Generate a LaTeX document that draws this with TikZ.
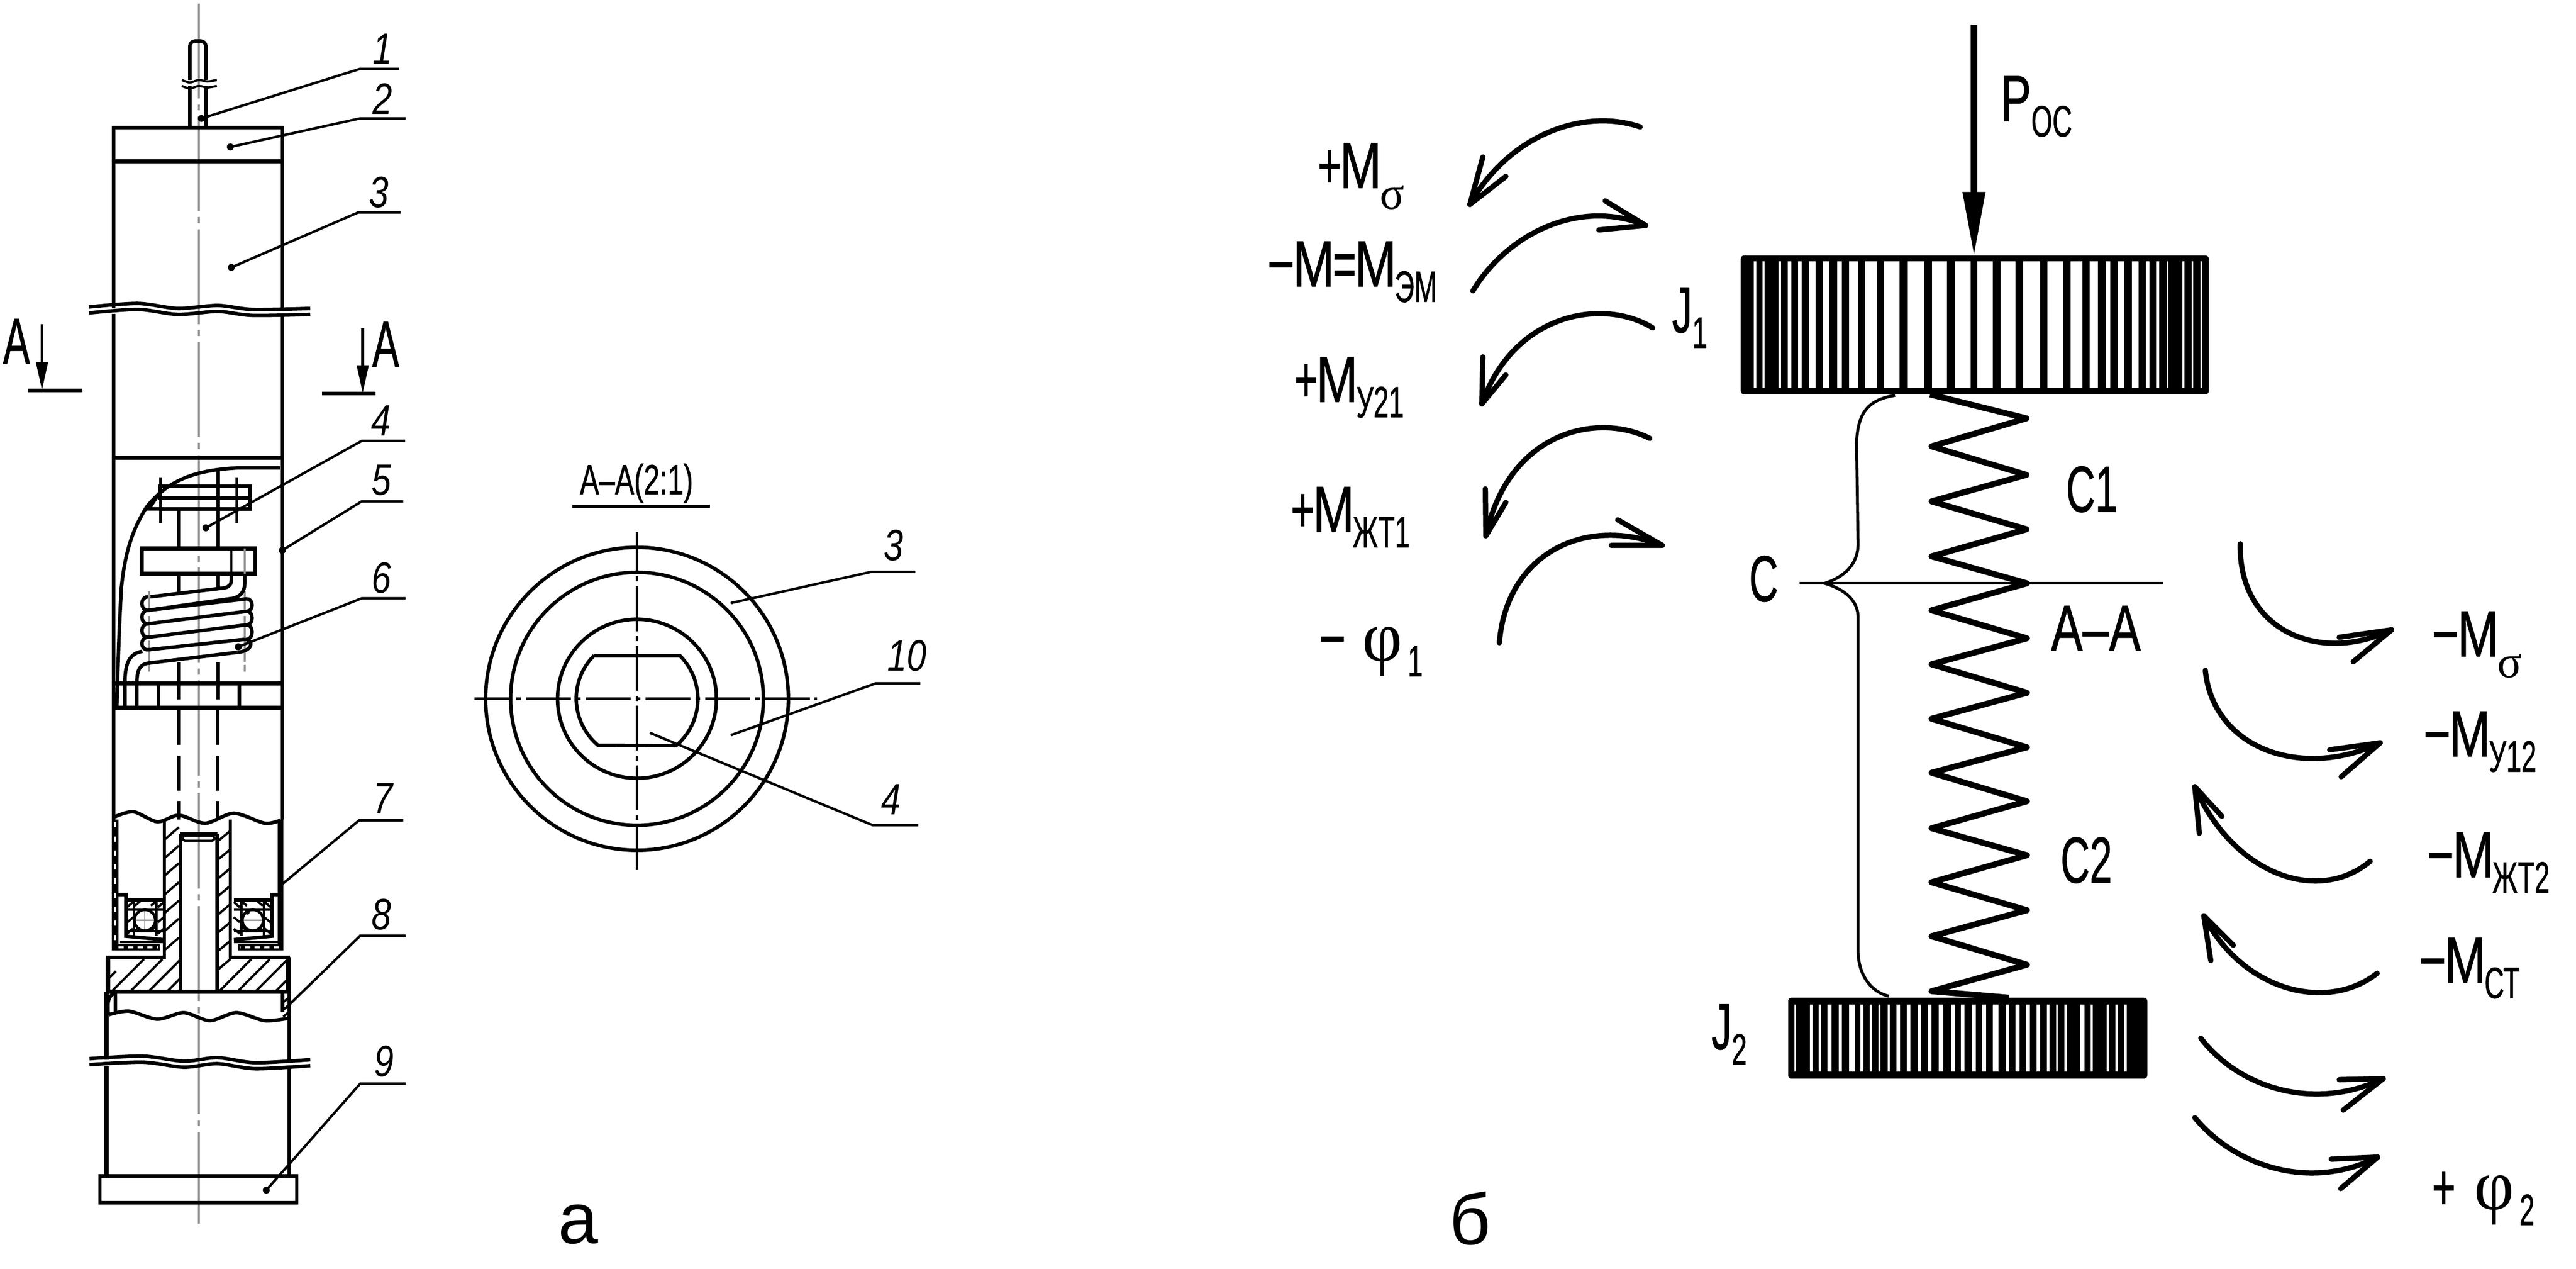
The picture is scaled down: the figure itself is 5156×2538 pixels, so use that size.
\documentclass[tikz,border=0pt]{standalone}
\usepackage{fontspec}
\usepackage{graphicx}
\usepackage{tikz}
\usetikzlibrary{arrows.meta}
\setmainfont{Liberation Sans}
\newfontfamily\grfont{Liberation Serif}
\newfontfamily\capfont[FakeBold=1]{Liberation Sans}
\definecolor{axisgray}{RGB}{150,150,150}

\newcommand{\nar}[1]{\scalebox{.62}[1]{#1}}
\newcommand{\lo}[1]{\raisebox{-8.8pt}{\fontsize{25}{25}\selectfont #1}}
\newcommand{\wide}[1]{\scalebox{1.61}[1]{{\grfont #1}}}
\newcommand{\MM}{\hspace{-1.5pt}\scalebox{1.24}[1]{M}\hspace{-1.5pt}}
\newcommand{\mns}{\scalebox{1.15}[1]{−}}
\newcommand{\losig}{\raisebox{-12pt}{\fontsize{26}{26}\selectfont\wide{σ}}}
\newcommand{\phisym}{\scalebox{1.55}[1]{{\grfont\fontsize{41}{41}\selectfont φ}}}
% name, dot, knee, end, label position, number
\newcommand{\leaderlabel}[7][7]{%
  \coordinate (#2dot) at #3;
  \coordinate (#2knee) at #4;
  \coordinate (#2end) at #5;
  \fill (#2dot) circle[radius=#1];
  \draw[leaderline] (#2dot) -- (#2knee) -- (#2end);
  \node[numlabel] (#2lbl) at #6 {\scalebox{.8}[1]{#7}};}
% start, control, control, barb, tip, barb
\newcommand{\moment}[6]{%
  \draw[momentline] #1 .. controls #2 and #3 .. #5;
  \draw[momentline] #4 -- #5 -- #6;}

\tikzset{
  wall/.style={line width=2pt},
  heavy/.style={line width=2.3pt},
  thinline/.style={line width=1.3pt},
  leaderline/.style={line width=1.4pt},
  axisline/.style={axisgray, line width=1.3pt, dash pattern=on 54pt off 3.4pt on 3.4pt off 3.4pt},
  centerline/.style={line width=1.5pt, dash pattern=on 25.6pt off 2.8pt on 2.8pt off 2.8pt},
  numlabel/.style={inner sep=0pt, font=\fontsize{25}{25}\selectfont\itshape},
  mlabel/.style={anchor=base west, inner sep=0pt, font=\capfont\fontsize{37}{37}\selectfont},
  caplabel/.style={inner sep=0pt, font=\capfont\fontsize{37}{37}\selectfont},
  momentline/.style={line width=3pt, line join=round, line cap=round},
  force/.style={line width=4pt, -{Stealth[length=37pt, width=12pt, inset=0pt]}},
  sectarrow/.style={line width=1.6pt, -{Stealth[length=16pt, width=6.5pt, inset=0pt]}},
}

\begin{document}
\begin{tikzpicture}[x=0.01cm, y=-0.01cm]
    \path[use as bounding box, fill=white] (0,0) rectangle (5156,2538);

    % Axis of the assembly
    \draw[axisline] (398,7) -- (398,2448);

    % Rod and top cap
    \draw[wall, rounded corners=3pt] (380,160) -- (380,82) -- (412,82) -- (412,160);
    \draw[wall] (380,172) -- (380,255);
    \draw[wall] (412,172) -- (412,255);
    \draw[thinline] plot[smooth] coordinates {(364,160) (380,165) (398,160) (415,163) (434,160)};
    \draw[thinline] plot[smooth] coordinates {(364,172) (380,177) (398,172) (415,175) (434,172)};
    \draw[wall] (227,617) -- (227,255) -- (565,255) -- (565,617);
    \draw[heavy] (227,323) -- (565,323);

    % Upper break
    \draw[wall] plot[smooth] coordinates {(178,614) (276,607) (356,617) (436,611) (505,619) (621,617)};
    \draw[wall] plot[smooth] coordinates {(178,626) (276,619) (356,629) (436,623) (505,631) (621,629)};
    \draw[wall] (227,628) -- (227,1640);
    \draw[wall] (565,628) -- (565,1640);

    % Section marks
    \node[caplabel] (markAl) at (33,683) {\nar{А}};
    \coordinate (markAlt) at (84,649);
    \coordinate (markAlb) at (84,781);
    \draw[sectarrow] (markAlt) -- (markAlb);
    \draw[wall] (56,781) -- (165,781);
    \node[caplabel] (markAr) at (772,689) {\nar{А}};
    \coordinate (markArt) at (726,657);
    \coordinate (markArb) at (726,787);
    \draw[sectarrow] (markArt) -- (markArb);
    \draw[wall] (644,787) -- (752,787);

    % Cut-away with the bolt
    \draw[heavy] (227,916) -- (565,916);
    \draw[wall] (561,936) -- (477,936) .. controls (400,940) and (340,955) .. (293,1015)
        .. controls (262,1065) and (250,1110) .. (243,1175) .. controls (238,1260) and (236,1340) .. (234,1413);
    \draw[wall] (320,973) rectangle (501,997);
    \draw[wall] (320,1018) -- (298,1018) -- (320,985);
    \draw[wall] (320,1018) -- (501,1018) -- (501,997);
    \draw[thinline] (321,955) -- (321,1047);
    \draw[thinline] (474,955) -- (474,1047);
    \draw[wall] (358,1018) -- (358,1097);
    \draw[wall] (437,942) -- (437,1097);
    \draw[heavy] (284,1097) rectangle (511,1148);
    \draw[thinline] (463,1097) -- (463,1148);
    \draw[axisline, dash pattern=] (490,1097) -- (490,1148);
    \draw[wall] (358,1148) -- (358,1188);
    \draw[wall] (437,1148) -- (437,1177);

    % Spring coils
    \draw[axisline, dash pattern=on 12pt off 2pt] (298,1183) -- (298,1344);
    \draw[axisline, dash pattern=on 12pt off 2pt] (490,1183) -- (490,1344);
    \draw[wall] (463,1148) -- (463,1160) .. controls (463,1170) and (458,1174) .. (450,1176) -- (301,1194);
    \draw[wall] (490,1148) -- (490,1165) .. controls (490,1185) and (480,1194) .. (466,1197) -- (296,1221);
    \draw[wall] (494,1198) -- (296,1221);
    \draw[wall] (494,1223) -- (296,1248);
    \draw[wall] (494,1250) -- (296,1275);
    \draw[wall] (490,1279) -- (296,1300);
    \foreach \a/\b in {1194/1221, 1221/1248, 1248/1275, 1275/1300}
        \draw[wall] (296,\a) .. controls (280,\a) and (280,\b) .. (296,\b);
    \foreach \a/\b in {1198/1223, 1223/1250, 1250/1279}
        \draw[wall] (494,\a) .. controls (508,\a) and (508,\b) .. (494,\b);
    \draw[wall] (490,1279) .. controls (510,1281) and (505,1303) .. (475,1305);
    \draw[wall] (250,1367) .. controls (250,1325) and (260,1307) .. (285,1303);
    \draw[wall] (274,1367) .. controls (274,1340) and (280,1330) .. (295,1327) -- (475,1305);

    % Lower block of the cut-away
    \draw[wall] (358,1325) -- (358,1399);
    \draw[wall] (437,1325) -- (437,1399);
    \draw[heavy] (231,1367) -- (564,1367);
    \draw[heavy] (231,1416) -- (564,1416);
    \foreach \x in {250,274,317,479}
        \draw[wall] (\x,1367) -- (\x,1416);
    \draw[wall, dash pattern=on 20pt off 6pt] (358,1420) -- (358,1640);
    \draw[wall, dash pattern=on 20pt off 6pt] (436,1420) -- (436,1640);

    % Second break line
    \draw[wall] plot[smooth] coordinates {(230,1634) (267,1624) (315,1644) (358,1631) (411,1647) (468,1627) (530,1647) (561,1641)};

    % Sleeve with hatching
    \draw[wall] (329,1644) -- (329,1915) -- (212,1915);
    \draw[wall] (461,1640) -- (461,1915) -- (581,1915);
    \draw[wall] (361,1668) -- (361,1984);
    \draw[wall] (435,1668) -- (435,1984);
    \draw[wall] (361,1668) -- (435,1668);
    \draw[thinline, rounded corners=2pt] (365,1672) rectangle (430,1682);
    \foreach \y in {1680,1717,1752,1790,1827,1863,1901}
        \draw[thinline] (329,\y) -- (358,\y-25);
    \foreach \y in {1683,1720,1758,1793,1830,1866,1903,1940}
        \draw[thinline] (436,\y) -- (461,\y-21);
    \begin{scope}
        \clip (219,1919) rectangle (358,1982);
        \foreach \x in {225,262,299,336}
            \draw[thinline] (\x,1982) -- (\x+63,1919);
        \draw[thinline] (200,1975) -- (232,1943);
    \end{scope}
    \begin{scope}
        \clip (436,1919) rectangle (575,1982);
        \foreach \x in {440,477,513,553}
            \draw[thinline] (\x,1982) -- (\x+63,1919);
    \end{scope}
    \draw[line width=2.6pt] (216,1915) -- (216,1984);
    \draw[line width=2.6pt] (577,1915) -- (577,1984);
    \draw[heavy] (212,1984) -- (581,1984);

    % Bearings, second one mirrored about the axis
    \fill (224,1640) rectangle (237,1901);
    \draw[white, line width=1pt, dash pattern=on 3pt off 5pt] (230,1645) -- (230,1885);
    \fill (556,1640) rectangle (567,1901);
    \foreach \bx/\bs in {0/1, 796/-1} {
        \begin{scope}[shift={(\bx,0)}, xscale=\bs]
            \draw[wall] (328,1801) -- (252,1801) -- (252,1790) -- (237,1790);
            \draw[wall] (252,1801) -- (252,1873) -- (328,1880);
            \draw[thinline] (268,1801) -- (268,1873);
            \draw[thinline] (252,1820) -- (328,1820);
            \draw[thinline] (252,1863) -- (328,1863);
            \draw[thinline] (313,1801) -- (313,1873);
            \foreach \x/\y in {254/1815, 270/1812, 302/1812, 316/1815, 254/1868, 270/1862, 302/1862, 316/1868, 255/1845, 316/1845}
                \draw[thinline] (\x,\y) -- ++(12,-10);
            \filldraw[fill=white, draw=black, line width=1.6pt] (290,1841) circle[radius=21];
            \fill (233,1889) rectangle (320,1901);
            \draw[white, line width=1.2pt, dash pattern=on 3pt off 2.5pt] (237,1895) -- (317,1895);
            \draw[thinline] (240,1885) -- (328,1885);
        \end{scope}
    }
    \draw[axisline, dash pattern=, line width=.7pt] (272,1841) -- (308,1841);
    \draw[axisline, dash pattern=, line width=.7pt] (290,1823) -- (290,1859);
    \draw[axisline, dash pattern=, line width=.7pt] (488,1841) -- (524,1841);
    \fill (495,1825) circle[radius=5];

    % Lower tube and base
    \draw[line width=2.8pt] (213,1984) -- (213,2120);
    \draw[wall] (579,1984) -- (579,2120);
    \draw[wall] (217,2030) .. controls (213,2000) and (220,1990) .. (231,1986) -- (231,2025);
    \draw[wall] (566,1986) -- (566,2025);
    \draw[thinline] (567,2005) -- (579,1995);
    \draw[thinline] (567,2020) -- (579,2010);
    \draw[thinline] (567,2034) -- (579,2024);
    \draw[wall] plot[smooth] coordinates {(218,2030) (258,2023) (315,2039) (368,2026) (420,2042) (473,2026) (530,2042) (578,2037)};
    \draw[wall] plot[smooth] coordinates {(179,2118) (286,2113) (368,2123) (435,2116) (511,2126) (621,2120)};
    \draw[wall] plot[smooth] coordinates {(179,2130) (286,2125) (368,2135) (435,2128) (511,2138) (621,2132)};
    \draw[line width=2.8pt] (213,2133) -- (213,2353);
    \draw[wall] (579,2133) -- (579,2353);
    \draw[wall] (200,2353) rectangle (594,2406);

    % Position numbers of the assembly
    \leaderlabel{itemA}{(403,237)}{(720,138)}{(799,138)}{(766,98)}{1}
    \leaderlabel{itemB}{(461,294)}{(720,237)}{(812,237)}{(766,198)}{2}
    \leaderlabel{itemC}{(463,535)}{(717,425)}{(802,425)}{(758,385)}{3}
    \leaderlabel{itemD}{(412,1056)}{(724,882)}{(811,882)}{(763,842)}{4}
    \leaderlabel{itemE}{(565,1101)}{(724,1003)}{(807,1003)}{(764,961)}{5}
    \leaderlabel{itemF}{(477,1294)}{(724,1197)}{(812,1197)}{(764,1156)}{6}
    \leaderlabel[2]{itemG}{(566,1768)}{(719,1641)}{(807,1641)}{(767,1597)}{7}
    \leaderlabel[2]{itemH}{(580,2009)}{(721,1872)}{(812,1872)}{(764,1830)}{8}
    \leaderlabel{itemJ}{(533,2381)}{(721,2168)}{(812,2168)}{(769,2123)}{9}

    % Section A-A
    \node[inner sep=0pt, font=\capfont\fontsize{24}{24}\selectfont] (sectTitle) at (1274,967) {\scalebox{.68}[1]{А–А(2:1)}};
    \draw[wall] (1146,1013) -- (1421,1013);
    \draw[wall] (1275,1398) circle[radius=303];
    \draw[wall] (1275,1398) circle[radius=253];
    \draw[wall] (1275,1398) circle[radius=159];
    \draw[wall] (1189,1312) -- (1361,1312) arc[start angle=-45, end angle=50, radius=122]
        -- (1197,1491) arc[start angle=130, end angle=225, radius=122];
    \draw[centerline, dash phase=3.1pt] (1275,1064) -- (1275,1745);
    \draw[centerline, dash phase=4.8pt] (950,1398) -- (1635,1398);
    \leaderlabel[3]{sectC}{(1465,1206)}{(1744,1144)}{(1832,1144)}{(1789,1091)}{3}
    \leaderlabel[3]{sectK}{(1465,1470)}{(1753,1367)}{(1842,1367)}{(1815,1312)}{10}
    \leaderlabel[3]{sectD}{(1303,1467)}{(1747,1651)}{(1838,1651)}{(1783,1600)}{4}

    % Sub-figure letters
    \node[inner sep=0pt, font=\fontsize{41}{41}\selectfont] (letterA) at (1157,2450) {а};
    \node[inner sep=0pt, font=\fontsize{41}{41}\selectfont] (letterB) at (2943,2438) {б};

    % Upper flywheel
    \fill[rounded corners=2pt] (3484,511) rectangle (4421,789);
    \foreach \a/\b in {3510/3515, 3528/3532, 3560/3565, 3578/3585, 3599/3606, 3621/3634, 3648/3662, 3677/3687, 3701/3718, 3733/3757, 3771/3802, 3818/3851, 3867/3897, 3912/3944, 3958/3989, 4004/4034, 4049/4084, 4098/4129, 4144/4168, 4183/4199, 4214/4224, 4239/4252, 4267/4280, 4295/4302, 4316/4322, 4337/4340, 4368/4372, 4387/4390, 4404/4407}
        \fill[white] (\a,523) rectangle (\b,775);

    % Lower flywheel
    \fill[rounded corners=2pt] (3579,1996) rectangle (4298,2158);
    \foreach \a/\b in {3592/3595, 3623/3628, 3640/3645, 3658/3666, 3680/3687, 3701/3712, 3724/3730, 3742/3747, 3760/3764, 3778/3782, 3796/3803, 3816/3824, 3838/3845, 3859/3866, 3880/3890, 3905/3912, 3925/3932, 3947/3955, 3967/3975, 3989/4000, 4014/4021, 4034/4042, 4056/4063, 4076/4084, 4097/4102, 4115/4119, 4132/4137, 4164/4172, 4185/4189, 4217/4221, 4234/4239, 4252/4257}
        \fill[white] (\a,2010) rectangle (\b,2144);

    % Axial force
    \coordinate (forceTop) at (3951,49);
    \coordinate (forceTip) at (3951,514);
    \draw[force] (forceTop) -- (forceTip);
    \node[mlabel] (forceLbl) at (4003,242) {\nar{\scalebox{1.15}[1]{P}\lo{ОС}}};

    % Spring between the flywheels
    \draw[line width=3.4pt, line join=round] (3863,789) -- (4056,837) -- (3866,893) -- (4056,950) -- (3866,1003)
        -- (4056,1059) -- (3866,1113) -- (4057,1167) -- (3866,1221) -- (4057,1277) -- (3866,1329)
        -- (4057,1386) -- (3866,1438) -- (4057,1495) -- (3866,1546) -- (4057,1603) -- (3866,1657)
        -- (4057,1711) -- (3866,1765) -- (4057,1821) -- (3866,1873) -- (4057,1930) -- (3866,1983) -- (4021,1996);

    % Brace and section line
    \draw[line width=1.7pt] (3793,791) .. controls (3735,800) and (3719,830) .. (3716,884) -- (3719,1088)
        .. controls (3719,1130) and (3690,1155) .. (3652,1167) .. controls (3690,1178) and (3719,1200) .. (3719,1235)
        -- (3719,1902) .. controls (3719,1950) and (3745,1985) .. (3781,1993);
    \draw[line width=1.5pt] (3602,1167) -- (4330,1167);
    \node[caplabel] (stiffC) at (3530,1158) {\nar{С}};
    \node[caplabel] (stiffA) at (4187,979) {\nar{С1}};
    \node[caplabel] (stiffB) at (4176,1721) {\nar{С2}};
    \node[caplabel] (sectAA) at (4195,1257) {\scalebox{.73}[1]{А–А}};
    \node[mlabel] (inertA) at (3346,665) {\nar{J\lo{1}}};
    \node[mlabel] (inertB) at (3425,2099) {\nar{J\lo{2}}};

    % Moments at the upper mass
    \moment{(3283,254)}{(3170,215)}{(3020,270)}{(2968,314)}{(2942,409)}{(3014,353)}
    \moment{(2948,582)}{(3015,470)}{(3160,395)}{(3213,402)}{(3294,451)}{(3200,460)}
    \moment{(3308,656)}{(3210,595)}{(3030,625)}{(2968,714)}{(2966,808)}{(3014,750)}
    \moment{(3302,877)}{(3200,825)}{(3020,860)}{(2973,978)}{(2974,1072)}{(3014,1005)}
    \moment{(3001,1286)}{(3015,1110)}{(3170,1030)}{(3238,1040)}{(3327,1091)}{(3225,1091)}
    \node[mlabel] (mSig) at (2637,376) {\nar{+\MM\losig}};
    \node[mlabel] (mEm) at (2536,573) {\nar{\mns\MM=\MM\lo{ЭМ}}};
    \node[mlabel] (mYa) at (2590,804) {\nar{+\MM\lo{У21}}};
    \node[mlabel] (mZa) at (2583,1064) {\nar{+\MM\lo{ЖТ1}}};
    \node[mlabel] (phiA) at (2639,1322) {\nar{\mns\hspace{15pt}\phisym\hspace{5pt}\lo{1}}};

    % Moments at the lower mass
    \moment{(4484,1088)}{(4480,1260)}{(4640,1330)}{(4682,1275)}{(4787,1260)}{(4710,1324)}
    \moment{(4414,1341)}{(4430,1500)}{(4610,1560)}{(4663,1500)}{(4764,1486)}{(4686,1554)}
    \moment{(4744,1723)}{(4640,1810)}{(4470,1750)}{(4402,1667)}{(4393,1574)}{(4447,1633)}
    \moment{(4758,1947)}{(4660,2025)}{(4490,1985)}{(4425,1922)}{(4411,1832)}{(4470,1891)}
    \moment{(4405,2077)}{(4480,2175)}{(4630,2225)}{(4682,2160)}{(4770,2158)}{(4690,2221)}
    \moment{(4393,2236)}{(4470,2330)}{(4620,2385)}{(4666,2319)}{(4759,2315)}{(4685,2378)}
    \node[mlabel] (mSigB) at (4867,1313) {\nar{\mns\MM\losig}};
    \node[mlabel] (mYb) at (4850,1513) {\nar{\mns\MM\lo{У12}}};
    \node[mlabel] (mZb) at (4857,1755) {\nar{\mns\MM\lo{ЖТ2}}};
    \node[mlabel] (mSt) at (4841,1966) {\nar{\mns\MM\lo{СТ}}};
    \node[mlabel] (phiB) at (4867,2420) {\nar{+\hspace{17pt}\phisym\hspace{5pt}\lo{2}}};
\end{tikzpicture}
\end{document}
